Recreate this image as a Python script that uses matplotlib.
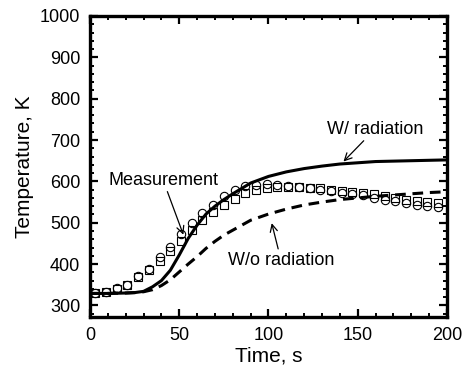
import matplotlib
matplotlib.use('Agg')
import matplotlib.pyplot as plt
from matplotlib.ticker import MultipleLocator

plt.rcParams['font.family'] = ['Liberation Sans', 'DejaVu Sans']

# measured temperatures (two thermocouples)
meas_time = [3, 9, 15, 21, 27, 33, 39, 45, 51, 57, 63, 69, 75, 81, 87, 93, 99,
             105, 111, 117, 123, 129, 135, 141, 147, 153, 159, 165, 171, 177,
             183, 189, 195]
meas_circle = [330, 333, 341, 350, 370, 387, 416, 442, 472, 499, 523, 543, 565,
               578, 589, 591, 593, 591, 590, 587, 583, 579, 577, 572, 570, 567,
               561, 556, 552, 548, 544, 540, 537]
meas_square = [330, 333, 340, 349, 368, 386, 408, 432, 457, 483, 507, 527, 543,
               557, 571, 579, 583, 586, 586, 586, 585, 583, 580, 577, 575, 572,
               569, 565, 559, 556, 553, 549, 547]

# simulations
sim_time = [0, 10, 20, 25, 30, 35, 40, 45, 50, 55, 60, 65, 70, 75, 80, 90, 100,
            110, 120, 130, 140, 150, 160, 170, 180, 190, 200]
with_rad = [329, 329, 330, 331, 334, 345, 360, 385, 422, 462, 494, 521, 540,
            556, 570, 596, 612, 623, 631, 637, 642, 645, 648, 649, 650, 651, 652]
without_rad = [329, 329, 330, 331, 333, 338, 348, 362, 381, 400, 418, 438, 455,
               470, 482, 506, 521, 533, 543, 550, 556, 560, 564, 567, 570, 573, 575]

fig = plt.figure(figsize=(4.64, 3.73), dpi=100)
ax = fig.add_axes([90 / 464, 56 / 373, 357 / 464, 301 / 373])

ax.plot(meas_time, meas_square, 's', ms=6, mfc='white', mec='black', mew=0.8, zorder=2)
ax.plot(meas_time, meas_circle, 'o', ms=6, mfc='none', mec='black', mew=0.8, zorder=2)
ax.plot(sim_time, with_rad, '-', color='black', lw=2.2, zorder=3)
ax.plot(sim_time, without_rad, '--', color='black', lw=2.2, dashes=(3.5, 2.2), zorder=3)

arrow = dict(arrowstyle='->', color='black', lw=0.9, shrinkA=0, shrinkB=0)
ax.annotate('Measurement', xy=(52.3, 471), xytext=(41, 582), fontsize=13,
            ha='center', va='bottom', arrowprops=arrow)
ax.annotate('W/ radiation', xy=(142, 648), xytext=(159.5, 705), fontsize=13,
            ha='center', va='bottom', arrowprops=arrow)
ax.annotate('W/o radiation', xy=(101.8, 499), xytext=(107, 430), fontsize=13,
            ha='center', va='top', arrowprops=arrow)

ax.set_xlim(0, 200)
ax.set_ylim(272, 1000)
ax.xaxis.set_major_locator(MultipleLocator(50))
ax.xaxis.set_minor_locator(MultipleLocator(10))
ax.yaxis.set_major_locator(MultipleLocator(100))
ax.yaxis.set_minor_locator(MultipleLocator(20))
ax.tick_params(which='both', direction='in', top=True, right=True, labelsize=13)
ax.tick_params(which='major', length=6, width=1.6, pad=7)
ax.tick_params(which='minor', length=3, width=1.4)
for s in ax.spines.values():
    s.set_linewidth(2.4)

ax.set_xlabel('Time, s', fontsize=15, labelpad=2)
ax.set_ylabel('Temperature, K', fontsize=15, labelpad=4)

plt.savefig('out.png', dpi=100)
